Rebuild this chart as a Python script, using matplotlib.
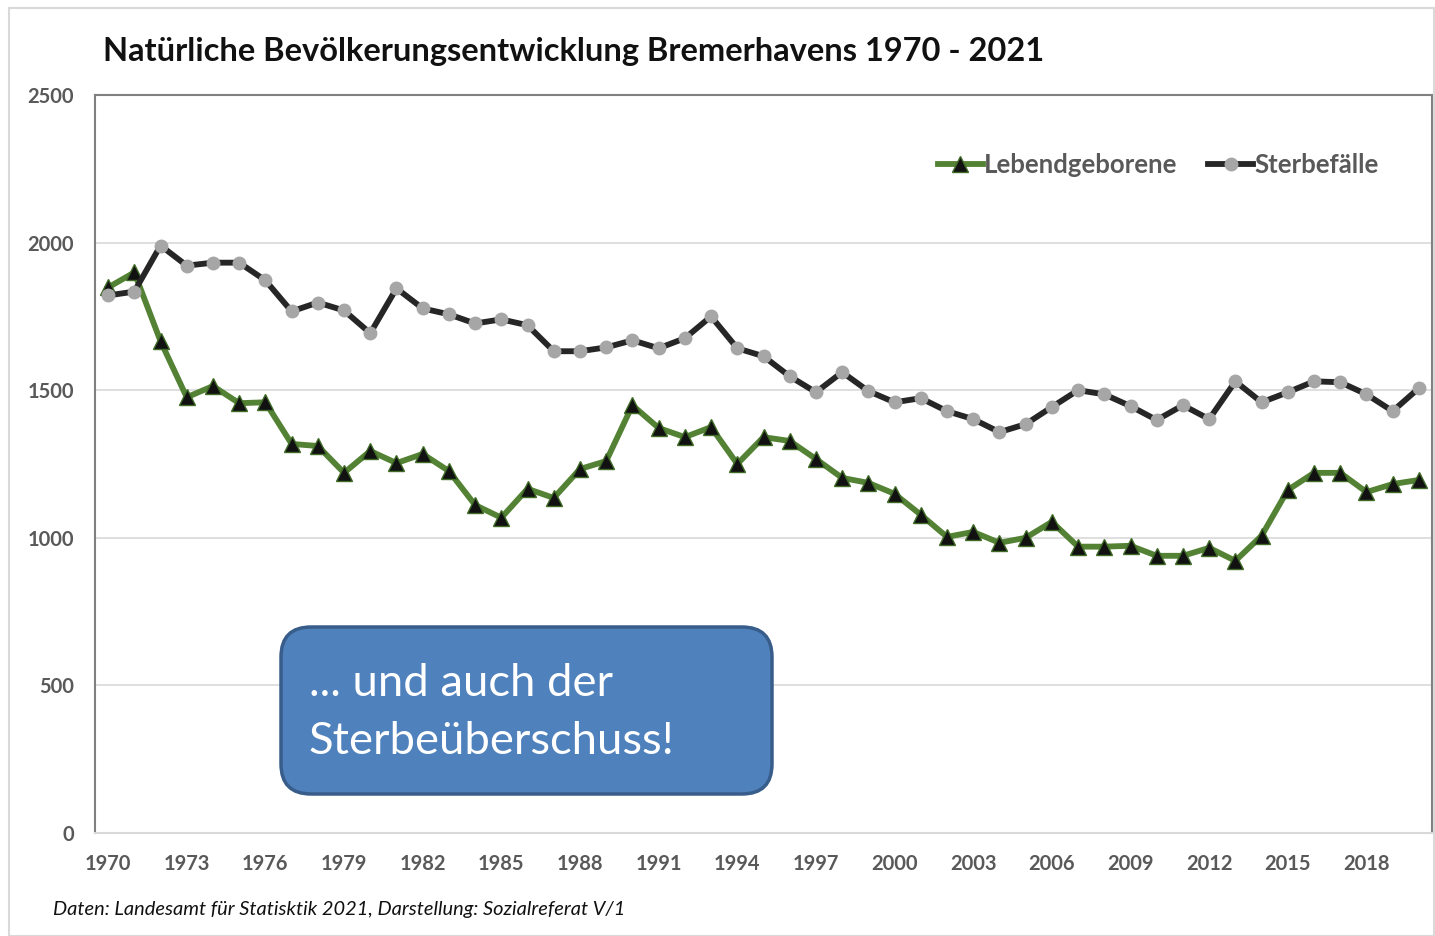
import numpy as np
import matplotlib.pyplot as plt
import matplotlib as mpl
from matplotlib.patches import FancyBboxPatch, Rectangle

mpl.rcParams['font.family'] = ['Lato', 'DejaVu Sans']

# data
years = list(range(1970, 2021))
geborene = [1848, 1899, 1666, 1476, 1514, 1456, 1459, 1318, 1311, 1220,
            1294, 1253, 1284, 1226, 1111, 1068, 1166, 1135, 1233, 1260,
            1449, 1372, 1341, 1375, 1250, 1341, 1328, 1267, 1203, 1186,
            1149, 1078, 1003, 1020, 983, 1000, 1054, 970, 970, 973,
            939, 939, 966, 922, 1007, 1162, 1220, 1220, 1155, 1182, 1196]
sterbefaelle = [1821, 1834, 1990, 1922, 1932, 1932, 1872, 1767, 1797, 1770,
                1693, 1845, 1777, 1757, 1726, 1740, 1720, 1632, 1632, 1645,
                1669, 1642, 1676, 1750, 1642, 1615, 1547, 1493, 1561, 1497,
                1459, 1473, 1429, 1402, 1358, 1385, 1443, 1500, 1486, 1446,
                1399, 1449, 1402, 1530, 1459, 1493, 1530, 1527, 1486, 1429, 1507]
yticks = [0, 500, 1000, 1500, 2000, 2500]

W, H = 1435, 936
fig = plt.figure(figsize=(W / 100, H / 100), dpi=100)

# outer chart border
fig.patches.append(Rectangle((9 / W, 0), (1434 - 9) / W, (936 - 8) / H,
                             transform=fig.transFigure, fill=False,
                             edgecolor='#d9d9d9', linewidth=1.5))

ax = fig.add_axes([95 / W, (H - 833) / H, (1432 - 95) / W, (833 - 95) / H])

x = np.arange(len(years))
ax.plot(x, geborene, color='#548235', linewidth=4.2, marker='^',
        markersize=11.5, markerfacecolor='#111111', markeredgecolor='#3f6b27',
        markeredgewidth=1, label='Lebendgeborene', zorder=3)
ax.plot(x, sterbefaelle, color='#262626', linewidth=4.2, marker='o',
        markersize=9, markerfacecolor='#a6a6a6', markeredgecolor='#a6a6a6',
        label='Sterbefälle', zorder=3)

ax.set_xlim(-0.5, len(years) - 0.5)
ax.set_ylim(0, 2500)
ax.set_yticks(yticks)
ax.set_xticks(x[::3])
ax.set_xticklabels([str(y) for y in years[::3]])
ax.grid(axis='y', color='#d9d9d9', linewidth=1.2, zorder=0)
ax.tick_params(length=0, labelsize=14.5, labelcolor='#595959')
for lab in ax.get_xticklabels() + ax.get_yticklabels():
    lab.set_fontweight('bold')
ax.tick_params(axis='y', pad=15)
ax.tick_params(axis='x', pad=15)

for s in ['left', 'top', 'right']:
    ax.spines[s].set_color('#808080')
    ax.spines[s].set_linewidth(1.5)
ax.spines['bottom'].set_color('#d9d9d9')
ax.spines['bottom'].set_linewidth(1.5)

leg = ax.legend(loc='center right', bbox_to_anchor=(0.9775, 0.905), ncol=2,
                frameon=False, handlelength=1.75, handletextpad=0.05,
                columnspacing=1.2, prop={'size': 18.5, 'weight': 'bold'})
for t in leg.get_texts():
    t.set_color('#595959')

fig.text(103 / W, 1 - 52 / H, 'Natürliche Bevölkerungsentwicklung Bremerhavens 1970 - 2021',
         fontsize=23.5, fontweight='bold', color='#111111', va='center')
fig.text(53 / W, 1 - 910 / H, 'Daten: Landesamt für Statisktik 2021, Darstellung: Sozialreferat V/1',
         fontsize=14.4, style='italic', color='#111111', va='center')

# callout box
fig.patches.append(FancyBboxPatch((2.81, (H - 794) / 100), 4.91, 1.67,
                                  boxstyle='round,pad=0,rounding_size=0.3',
                                  transform=fig.dpi_scale_trans,
                                  facecolor='#4f81bd', edgecolor='#385d8a',
                                  linewidth=2.5, zorder=5))
fig.text(309 / W, 1 - 683 / H, '... und auch der', fontsize=32.7, color='white',
         va='center', zorder=6)
fig.text(309 / W, 1 - 741 / H, 'Sterbeüberschuss!', fontsize=32.7, color='white',
         va='center', zorder=6)

fig.savefig('out.png', dpi=100)
